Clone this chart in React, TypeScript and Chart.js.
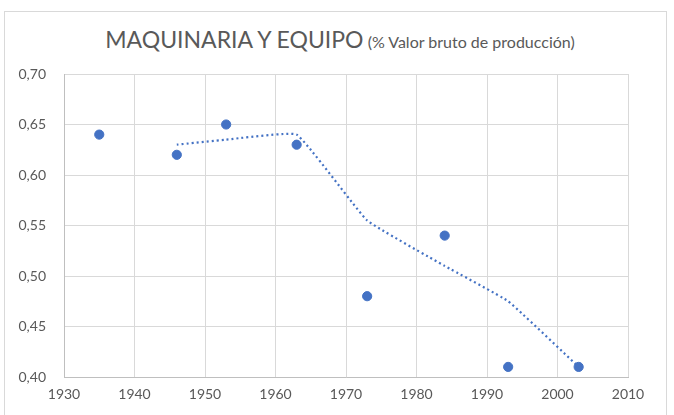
import React, { useEffect, useRef } from "react";
import { Chart, registerables } from "chart.js";

Chart.register(...registerables);

const years = [1935, 1946, 1953, 1963, 1973, 1984, 1993, 2003];
const values = [0.64, 0.62, 0.65, 0.63, 0.48, 0.54, 0.41, 0.41];
const trendYears = [1946, 1953, 1963, 1973, 1984, 1993, 2003];
const trendValues = [0.63, 0.635, 0.64, 0.555, 0.51, 0.475, 0.41];
const titleMain = "MAQUINARIA Y EQUIPO";
const titleSub = "(% Valor bruto de producción)";

const FONT = "Lato, 'Open Sans', sans-serif";
const TEXT = "#595959";
const BLUE = "#4472C4";

export default function App() {
  const ref = useRef<HTMLCanvasElement>(null);
  useEffect(() => {
    const ctx = ref.current!;
    const chart = new Chart(ctx, {
      type: "scatter",
      data: {
        datasets: [
          {
            label: "trend",
            type: "line",
            data: trendYears.map((x, i) => ({ x, y: trendValues[i] })),
            borderColor: BLUE,
            borderWidth: 2.2,
            borderDash: [2, 3],
            pointRadius: 0,
            fill: false,
            tension: 0.1,
          } as any,
          {
            label: "data",
            data: years.map((x, i) => ({ x, y: values[i] })),
            backgroundColor: BLUE,
            borderColor: BLUE,
            pointRadius: 4.6,
          },
        ],
      },
      options: {
        responsive: true,
        maintainAspectRatio: false,
        animation: false,
        layout: { padding: { top: 74, right: 46, bottom: 0, left: 0 } },
        plugins: { legend: { display: false }, tooltip: { enabled: false }, title: { display: false } },
        scales: {
          x: {
            type: "linear",
            min: 1930,
            max: 2010,
            ticks: { stepSize: 10, color: TEXT, font: { family: FONT, size: 14 }, padding: 9, callback: (v: any) => String(v) },
            grid: { color: "#d9d9d9", drawTicks: false },
            border: { color: "#bfbfbf" },
            afterFit: (s: any) => { s.height = 38; },
          },
          y: {
            min: 0.4,
            max: 0.7,
            ticks: {
              stepSize: 0.05,
              color: TEXT,
              font: { family: FONT, size: 14 },
              padding: 18,
              callback: (v: any) => Number(v).toFixed(2).replace(".", ","),
            },
            grid: { color: "#d9d9d9", drawTicks: false },
            border: { color: "#bfbfbf" },
            afterFit: (s: any) => { s.width = 64; },
          },
        },
      },
    });
    return () => chart.destroy();
  }, []);
  return (
    <div style={{ position: "absolute", left: 0, top: 0, width: 674, height: 415, background: "#fff", overflow: "hidden" }}>
      <div style={{ position: "absolute", left: 4, top: 11, width: 663, height: 420, border: "1px solid #d9d9d9", boxSizing: "border-box" }} />
      <div
        style={{
          position: "absolute",
          left: 0,
          top: 24,
          width: 680,
          textAlign: "center",
          color: TEXT,
          fontFamily: FONT,
          whiteSpace: "nowrap",
          lineHeight: "30px",
        }}
      >
        <span style={{ fontSize: 23 }}>{titleMain}</span>
        <span style={{ fontSize: 16 }}> {titleSub}</span>
      </div>
      <div style={{ position: "absolute", left: 0, top: 0, width: 674, height: 415 }}>
        <canvas ref={ref} />
      </div>
    </div>
  );
}
